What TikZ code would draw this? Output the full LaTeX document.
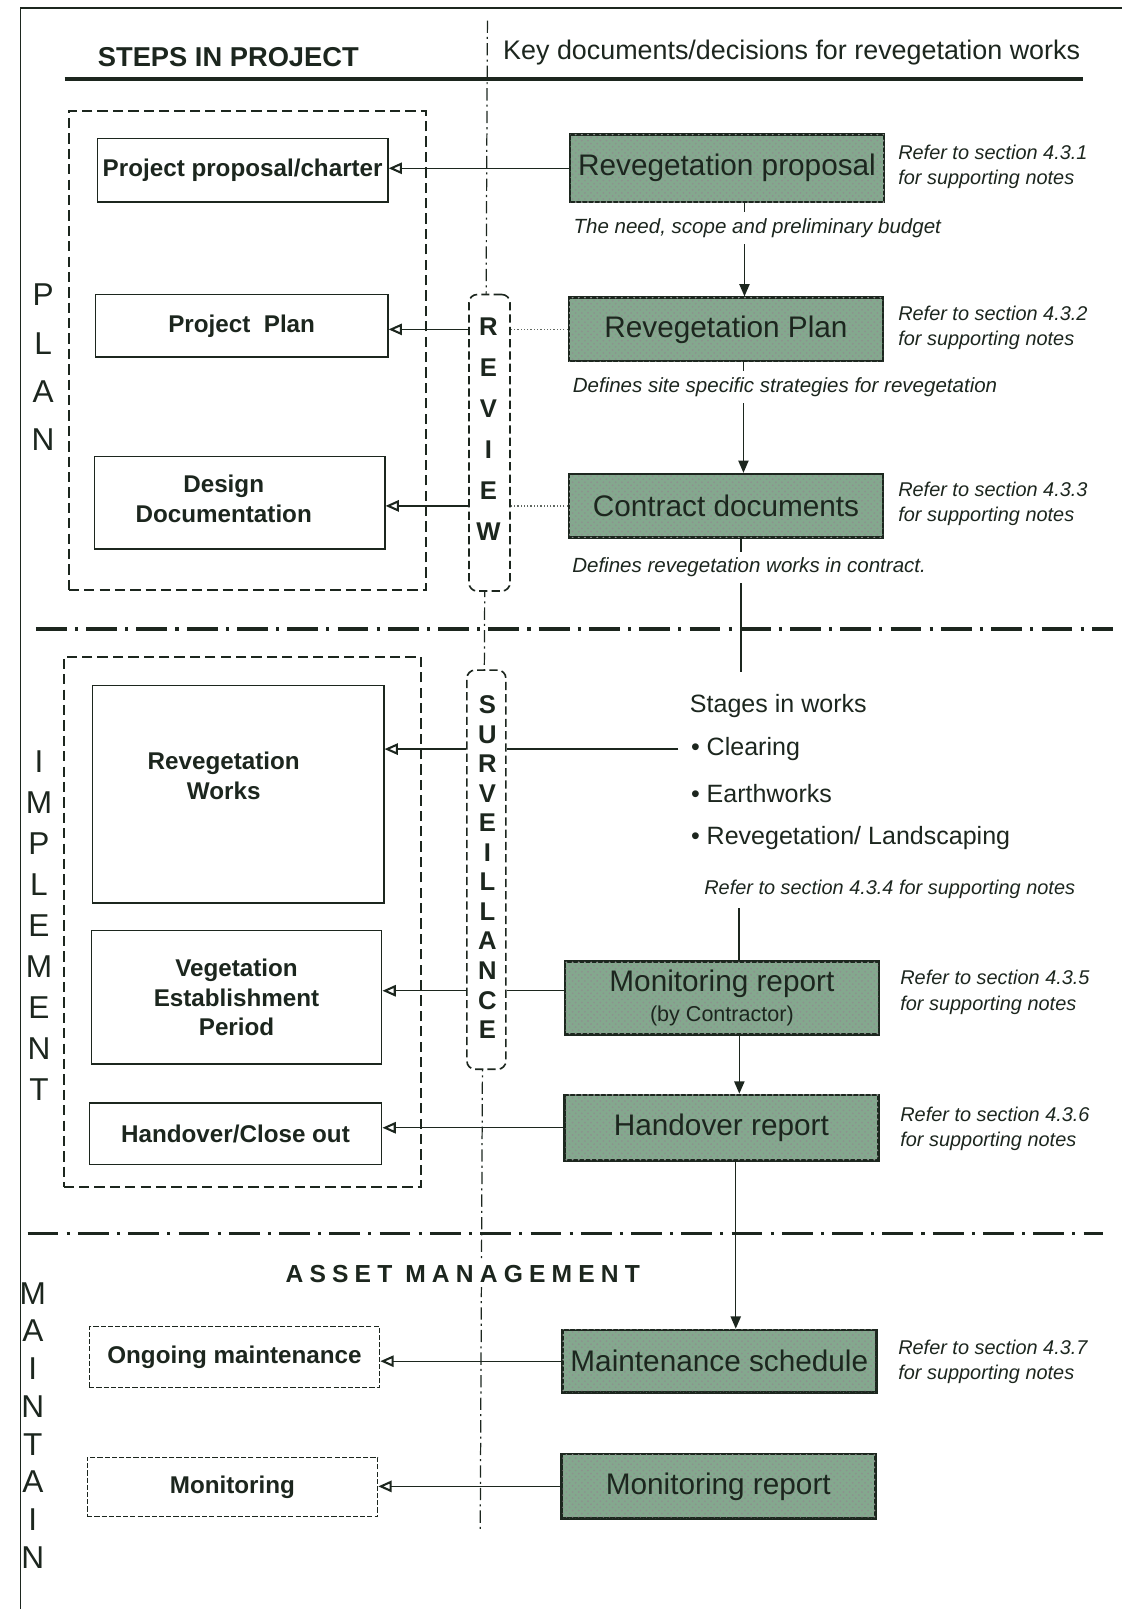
\documentclass[tikz,border=0pt]{standalone}
\usepackage{fontspec}
\setmainfont{Liberation Sans}
\usetikzlibrary{arrows.meta,patterns}

\definecolor{ink}{RGB}{28,38,30}
\definecolor{docfill}{RGB}{132,168,142}

\begin{document}
\begin{tikzpicture}[x=0.5pt,y=-0.5pt]
    \tikzset{
      stepbox/.style={draw=ink, line width=0.7pt, align=center, inner sep=2pt, text=ink,
        font=\fontsize{11.8}{14.4}\selectfont\bfseries},
      steptext/.style={align=center, inner sep=0pt, text=ink,
        font=\fontsize{11.8}{14.4}\selectfont\bfseries},
      finebox/.style={stepbox, dash pattern=on 2.5pt off 1pt, line width=0.6pt},
      docbox/.style={draw=ink, line width=1.2pt, fill=docfill,
        postaction={pattern=crosshatch dots, pattern color=ink!50},
        minimum width=153pt, align=center, text=ink, inner sep=1pt,
        font=\fontsize{14.5}{15}\selectfont},
      groupbox/.style={draw=ink, line width=1pt, dash pattern=on 5pt off 2.5pt},
      reviewbox/.style={draw=ink, fill=white, line width=0.8pt, dash pattern=on 4pt off 2pt,
        rounded corners=4pt},
      note/.style={anchor=west, align=left, inner sep=0pt, text=ink,
        font=\fontsize{9.7}{12.5}\selectfont\itshape},
      caption/.style={fill=white, inner sep=3pt, text=ink,
        font=\fontsize{10}{12}\selectfont\itshape},
      stagetext/.style={anchor=west, inner sep=0pt, text=ink,
        font=\fontsize{12.2}{14}\selectfont},
      hconn/.style={draw=ink, line width=0.6pt,
        -{Triangle[open, length=6.5pt, width=5.5pt, line width=1pt]}},
      vconn/.style={draw=ink, line width=0.7pt, -{Triangle[length=6pt, width=5pt]}},
      vline/.style={draw=ink, line width=0.7pt},
      dotconn/.style={draw=ink!70, line width=0.6pt, densely dotted},
      plainconn/.style={draw=ink, line width=0.6pt},
      sepline/.style={draw=ink, line width=1.5pt, dash pattern=on 15pt off 4pt on 1.5pt off 4pt},
      midline/.style={draw=ink, line width=0.6pt, dash pattern=on 6pt off 2pt on 1pt off 2pt}
    }
    \useasboundingbox (0,0) rectangle (1093,1568);

    % frame and headings
    \draw[ink, line width=0.8pt] (20,1568) -- (20,8) -- (1093,8);
    \node[anchor=west, inner sep=0pt, text=ink, font=\fontsize{13.3}{15}\selectfont\bfseries]
      (steps) at (95,56) {STEPS IN PROJECT};
    \node[anchor=west, inner sep=0pt, text=ink, font=\fontsize{13.1}{15}\selectfont]
      (keydocs) at (490,51) {Key documents/decisions for revegetation works};
    \draw[ink, line width=1.6pt] (63,77) -- (1055,77);
    \draw[midline] (475,20) -- (468,1490);
    \draw[sepline] (35,613) -- (1085,613);
    \draw[sepline] (27,1202) -- (1075,1202);

    % stage letters
    \node[align=center, inner sep=0pt, text=ink, font=\fontsize{15.4}{23.5}\selectfont]
      (plan) at (42,358) {P\\L\\A\\N};
    \node[align=center, inner sep=0pt, text=ink, font=\fontsize{15.4}{20}\selectfont]
      (implement) at (38,902) {I\\M\\P\\L\\E\\M\\E\\N\\T};
    \node[align=center, inner sep=0pt, text=ink, font=\fontsize{15.4}{18.4}\selectfont]
      (maintain) at (32,1389) {M\\A\\I\\N\\T\\A\\I\\N};

    % groups
    \node[groupbox, minimum width=174pt, minimum height=233.5pt] (plangrp) at (241,341.5) {};
    \node[groupbox, minimum width=174pt, minimum height=258.5pt] (implgrp) at (236,898.5) {};
    \node[reviewbox, minimum width=20pt, minimum height=144.5pt] (review) at (477,431.5) {};
    \node[reviewbox, minimum width=19pt, minimum height=194.5pt] (surv) at (474,847.5) {};
    \node[align=center, inner sep=0pt, text=ink, font=\fontsize{12.5}{20}\selectfont\bfseries]
      (reviewtxt) at (476,418) {R\\E\\V\\I\\E\\W};
    \node[align=center, inner sep=0pt, text=ink, font=\fontsize{12.5}{14.4}\selectfont\bfseries]
      (survtxt) at (475,845) {S\\U\\R\\V\\E\\I\\L\\L\\A\\N\\C\\E};

    % steps in project
    \node[stepbox, minimum width=141.5pt, minimum height=31pt] (charter) at (236.5,166) {Project proposal/charter};
    \node[stepbox, minimum width=142.5pt, minimum height=30.5pt] (pplan) at (235.5,317.5) {Project~ Plan};
    \node[stepbox, minimum width=141.5pt, minimum height=45pt] (design) at (233.5,490) {};
    \node[steptext] (designtxt) at (218,486) {Design\\Documentation};
    \node[stepbox, minimum width=142pt, minimum height=106pt] (revworks) at (232,774) {};
    \node[steptext] (revworkstxt) at (218,756) {Revegetation\\Works};
    \node[stepbox, minimum width=141.5pt, minimum height=65pt] (vep) at (230.5,972) {Vegetation\\Establishment\\Period};
    \node[stepbox, minimum width=142.5pt, minimum height=30pt] (handover) at (229.5,1105) {Handover/Close out};
    \node[finebox, minimum width=141.5pt, minimum height=29.5pt] (ongoing) at (228.5,1322.5) {Ongoing maintenance};
    \node[finebox, minimum width=141.5pt, minimum height=29pt] (monitoring) at (226.5,1449) {Monitoring};
    \node[fill=white, inner sep=2pt, text=ink,
      font=\fontsize{12}{14}\selectfont\bfseries\addfontfeature{LetterSpace=25}]
      (asset) at (451,1242) {ASSET MANAGEMENT};

    % key documents
    \node[docbox, minimum height=33pt] (revprop) at (708.5,164) {Revegetation proposal};
    \node[docbox, minimum height=31pt] (revplan) at (707.5,321) {Revegetation Plan};
    \node[docbox, minimum height=31pt] (contract) at (707.5,493) {Contract documents};
    \node[docbox, minimum height=35.5pt] (monrep) at (703.5,972.5)
      {Monitoring report\\{\fontsize{10.5}{12}\selectfont (by Contractor)}};
    \node[docbox, minimum height=32pt] (handrep) at (703,1099) {Handover report};
    \node[docbox, minimum height=30.5pt] (maint) at (701,1326.5) {Maintenance schedule};
    \node[docbox, minimum height=31.5pt] (monrep2) at (700,1448.5) {Monitoring report};

    % notes
    \node[note] (note1) at (875,162.5) {Refer to section 4.3.1\\for supporting notes};
    \node[note] (note2) at (875,319.5) {Refer to section 4.3.2\\for supporting notes};
    \node[note] (note3) at (875,491) {Refer to section 4.3.3\\for supporting notes};
    \node[note] (note5) at (877,967) {Refer to section 4.3.5\\for supporting notes};
    \node[note] (note6) at (877,1100) {Refer to section 4.3.6\\for supporting notes};
    \node[note] (note7) at (875,1327) {Refer to section 4.3.7\\for supporting notes};

    % stages in works
    \node[stagetext] (stages) at (672,688) {Stages in works};
    \node[stagetext] (clearing) at (673,730) {\textbullet\ Clearing};
    \node[stagetext] (earthworks) at (673,773) {\textbullet\ Earthworks};
    \node[stagetext] (landscaping) at (673,817) {\textbullet\ Revegetation/ Landscaping};
    \node[note] (note4) at (686,867) {Refer to section 4.3.4 for supporting notes};
    \coordinate (stageend) at (722,655);
    \coordinate (note4end) at (720,885);

    %edges
    \draw[vconn] ([xshift=8.5pt]revprop.south) -- ([xshift=8.5pt]revprop.south |- revplan.north);
    \draw[vconn] ([xshift=8.5pt]revplan.south) -- ([xshift=8.5pt]revplan.south |- contract.north);
    \draw[vline] (contract.south -| stageend) -- (stageend);
    \draw[vline] (note4end) -- (note4end |- monrep.north);
    \draw[vconn] ([xshift=8.5pt]monrep.south) -- ([xshift=8.5pt]monrep.south |- handrep.north);
    \draw[vconn] ([xshift=7pt]handrep.south) -- ([xshift=7pt]handrep.south |- maint.north);
    \node[caption] (cap1) at (738,222) {The need, scope and preliminary budget};
    \node[caption] (cap2) at (765,377) {Defines site specific strategies for revegetation};
    \node[caption] (cap3) at (730,553) {Defines revegetation works in contract.};

    \draw[hconn] (revprop.west) -- (revprop.west -| charter.east);
    \draw[dotconn] (revplan.west) -- (revplan.west -| review.east);
    \draw[hconn] (revplan.west -| review.west) -- (revplan.west -| pplan.east);
    \draw[dotconn] (contract.west) -- (contract.west -| review.east);
    \draw[hconn] (contract.west -| review.west) -- (contract.west -| design.east);
    \draw[plainconn] ([xshift=-6pt]clearing.west) -- (clearing.west -| surv.east);
    \draw[hconn] (clearing.west -| surv.west) -- (clearing.west -| revworks.east);
    \draw[plainconn] ([yshift=3.5pt]monrep.west) -- ([yshift=3.5pt]monrep.west -| surv.east);
    \draw[hconn] ([yshift=3.5pt]monrep.west -| surv.west) -- ([yshift=3.5pt]monrep.west -| vep.east);
    \draw[hconn] (handrep.west) -- (handrep.west -| handover.east);
    \draw[hconn] (maint.west) -- (maint.west -| ongoing.east);
    \draw[hconn] (monrep2.west) -- (monrep2.west -| monitoring.east);
  \end{tikzpicture}
\end{document}
